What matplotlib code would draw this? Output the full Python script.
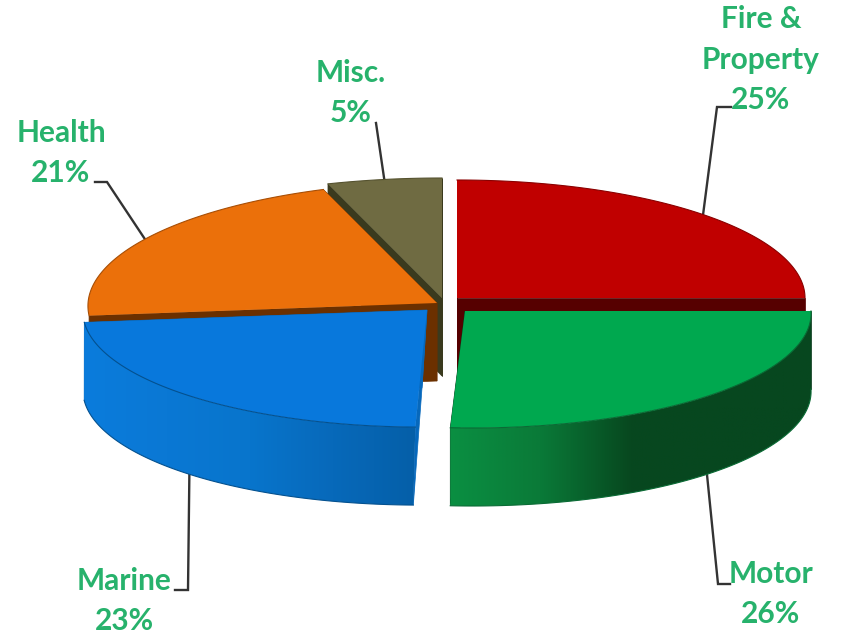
import numpy as np
import matplotlib
matplotlib.use('Agg')
import matplotlib.pyplot as plt
from matplotlib.colors import LinearSegmentedColormap
from matplotlib.patches import Polygon

# Premium share by line of business, clockwise from 12 o'clock
categories = ['Fire &\nProperty', 'Motor', 'Marine', 'Health', 'Misc.']
shares = [25, 26, 23, 21, 5]

top_colors = ['#C00000', '#00A84F', '#0878DC', '#EB700A', '#6F6B42']
edge_colors = ['#8A0000', '#0A6B35', '#04518F', '#A84E05', '#55522F']
cut_colors = ['#560000', '#063A1A', '#0668BC', '#6B3000', '#3A3A1E']
wall_stops = [
    None,
    ['#0A8F42', '#0A7A38', '#07481F', '#07471F', '#07471F'],
    ['#0B7CDC', '#0A78D4', '#0875CC', '#0769BA', '#055FA8'],
    None,
    None,
]

# Each exploded slice has its own hub, ellipse and tilt
layout = [
    dict(cx=457, cy=298, rx=348, ry=118, xshear=0.0, yshear=0.0, lean=0, hub_dx=0),
    dict(cx=465, cy=311, rx=346, ry=117, xshear=0.06, yshear=0.0, lean=0, hub_dx=0),
    dict(cx=427, cy=310, rx=344, ry=117, xshear=0.085, yshear=-0.0145, lean=-2, hub_dx=-5),
    dict(cx=437, cy=303, rx=349, ry=121, xshear=0.05, yshear=-0.0145, lean=0, hub_dx=0),
    dict(cx=442, cy=298, rx=369, ry=120, xshear=0.0, yshear=0.0, lean=0, hub_dx=0),
]
depth = 78

# Label centre, then the elbow and far end of its leader line
label_pos = [(761, 59.5), (771, 594), (124, 601), (61, 153), (351, 93)]
leader_elbow = [(717, 107), (718, 584), (188, 590), (107, 182), (376, 123)]
leader_end = [(731, 107), (730, 584), (175, 590), (95, 182), None]
LABEL_GREEN = '#27B26C'


def rim(t, s, bottom=False):
    t = np.radians(t)
    dx, dy = s['rx'] * np.sin(t), -s['ry'] * np.cos(t)
    x = s['cx'] + dx + s['xshear'] * dy
    y = s['cy'] + dy + s['yshear'] * dx
    if bottom:
        x = x + s['lean'] * np.maximum(0, -np.cos(t))
        y = y + depth
    return x, y


def draw_slice(ax, start, end, s, top, edge, cut, stops):
    hub = (s['cx'], s['cy'])
    hub_low = (s['cx'] + s['hub_dx'], s['cy'] + depth)

    # cut faces at both ends of the slice
    for t in (start, end):
        ax.add_patch(Polygon([hub, rim(t, s), rim(t, s, True), hub_low],
                             fc=cut, ec=cut, lw=0.5, zorder=ax.next_z()))

    # outer wall, only the near half of the rim shows
    a, b = max(start, 90), min(end, 270)
    if stops is not None and b > a:
        ts = np.linspace(a, b, 120)
        xt, yt = rim(ts, s)
        xb, yb = rim(ts, s, True)
        wall = Polygon(np.r_[np.c_[xt, yt], np.c_[xb, yb][::-1]], fc='none', ec='none',
                       zorder=ax.next_z())
        ax.add_patch(wall)
        cmap = LinearSegmentedColormap.from_list('wall', stops)
        left, right = min(xt.min(), xb.min()), max(xt.max(), xb.max())
        im = ax.imshow(np.linspace(0, 1, 256)[None, :], cmap=cmap, aspect='auto',
                       extent=(left, right, yb.max(), yt.min()), zorder=ax.next_z())
        im.set_clip_path(wall)
        ax.plot(np.r_[xb], np.r_[yb], color=edge, lw=0.8, zorder=ax.next_z())

    # top face
    ts = np.linspace(start, end, 120)
    xs, ys = rim(ts, s)
    ax.add_patch(Polygon(np.r_[[hub], np.c_[xs, ys]], fc=top, ec='none', zorder=ax.next_z()))
    ax.plot(xs, ys, color=edge, lw=0.8, zorder=ax.next_z())


def main():
    fig = plt.figure(figsize=(8.42, 6.34), dpi=100)
    ax = fig.add_axes([0, 0, 1, 1])

    counter = iter(range(10, 1000))
    ax.next_z = lambda: next(counter)

    edges = np.cumsum([0] + shares) / sum(shares) * 360
    mids = (edges[:-1] + edges[1:]) / 2

    # leader lines sit behind the pie, starting at the middle of each slice rim
    for i, s in enumerate(layout):
        near = 90 < mids[i] < 270
        x0, y0 = rim(mids[i], s, near)
        pts = [(x0, y0), leader_elbow[i]]
        if leader_end[i] is not None:
            pts.append(leader_end[i])
        ax.plot(*zip(*pts), color='#333333', lw=1.7, solid_joinstyle='miter', zorder=5)

    # back slices first so the front ones overlap them
    for i in [0, 4, 3, 2, 1]:
        draw_slice(ax, edges[i], edges[i + 1], layout[i],
                   top_colors[i], edge_colors[i], cut_colors[i], wall_stops[i])

    for cat, share, (x, y) in zip(categories, shares, label_pos):
        ax.text(x, y, f'{cat}\n{share}%', color=LABEL_GREEN, fontsize=21.5, fontweight='bold',
                family='Lato', ha='center', va='center', linespacing=1.53, zorder=2000)

    ax.set_xlim(0, 842)
    ax.set_ylim(634, 0)
    ax.axis('off')
    fig.savefig('out.png', dpi=100, facecolor='white')


if __name__ == "__main__":
    main()
